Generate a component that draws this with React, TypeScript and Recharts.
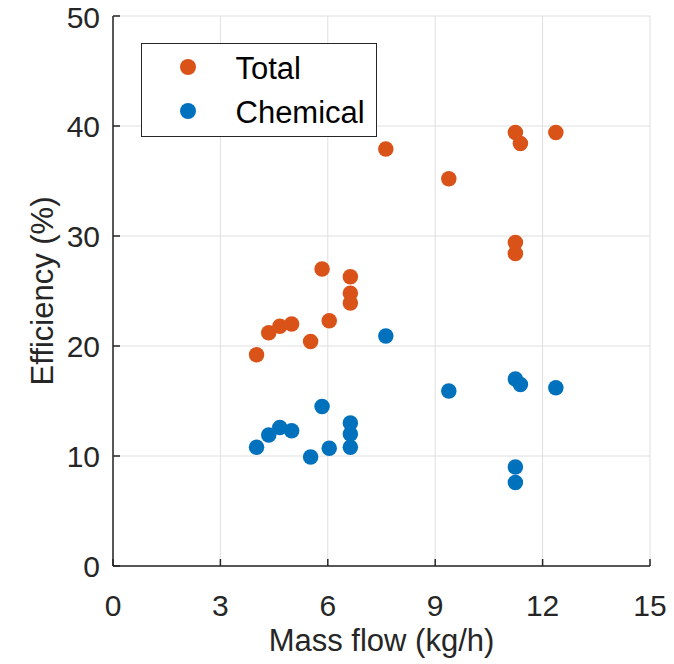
import { ScatterChart, Scatter, XAxis, YAxis, CartesianGrid, Legend } from 'recharts'

// mass flow (kg/h) of each run, shared by both series
const massFlow = [4.01, 4.35, 4.66, 4.99, 5.52, 5.84, 6.04, 6.63, 6.63, 6.63, 7.62, 9.38, 11.24, 11.38, 12.37, 11.24, 11.24]
const totalEff = [19.2, 21.2, 21.8, 22.0, 20.4, 27.0, 22.3, 26.3, 24.8, 23.9, 37.9, 35.2, 39.4, 38.4, 39.4, 29.4, 28.4]
const chemicalEff = [10.8, 11.9, 12.6, 12.3, 9.9, 14.5, 10.7, 13.0, 12.0, 10.8, 20.9, 15.9, 17.0, 16.5, 16.2, 9.0, 7.6]

const xTicks = [0, 3, 6, 9, 12, 15]
const yTicks = [0, 10, 20, 30, 40, 50]

const seriesNames = ['Total', 'Chemical']
const seriesColors = ['#D95319', '#0072BD']

const AXIS = '#262626'
const BOX = '#707070'
const FONT = '"Liberation Sans", Arial, Helvetica, sans-serif'

const totalRows = massFlow.map((x, i) => ({ x, y: totalEff[i] }))
const chemicalRows = massFlow.map((x, i) => ({ x, y: chemicalEff[i] }))

const dot = (color: string) => (p: any) => <circle cx={p.cx} cy={p.cy} r={7.75} fill={color} />

function LegendBox() {
  return (
    <div
      style={{
        width: 236, height: 94, boxSizing: 'border-box', border: '1px solid #262626',
        background: '#fff', fontFamily: FONT, fontSize: 31, color: '#000', paddingTop: 3,
      }}
    >
      {seriesNames.map((name, i) => (
        <div key={name} style={{ position: 'relative', height: 43.5 }}>
          <span
            style={{
              position: 'absolute', left: 38.3, top: 12.3, width: 16, height: 16,
              borderRadius: '50%', background: seriesColors[i],
            }}
          />
          <span style={{ position: 'absolute', left: 93.5, top: 0, lineHeight: '43.5px' }}>{name}</span>
        </div>
      ))}
    </div>
  )
}

const tickStyle = { fill: AXIS, fontSize: 30, fontFamily: FONT }

export default function App() {
  return (
    <div style={{ position: 'absolute', left: 0, top: 0, background: '#fff' }}>
      <ScatterChart width={674} height={664} margin={{ top: 16, right: 24, bottom: 0, left: 0 }}>
        <CartesianGrid stroke="#dfdfdf" strokeWidth={1} />
        <XAxis
          type="number" dataKey="x" domain={[0, 15]} ticks={xTicks} height={98}
          stroke={AXIS} strokeWidth={1.5} tickSize={-7} tickMargin={36} tick={tickStyle}
          label={{ value: 'Mass flow (kg/h)', position: 'center', dy: 25, fill: AXIS, fontSize: 31, fontFamily: FONT }}
        />
        <YAxis
          type="number" dataKey="y" domain={[0, 50]} ticks={yTicks} width={113}
          stroke={AXIS} strokeWidth={1.5} tickSize={-7} tickMargin={20} tick={tickStyle}
          label={{ value: 'Efficiency (%)', angle: -90, position: 'center', dx: -15, fill: AXIS, fontSize: 31, fontFamily: FONT }}
        />
        <XAxis
          xAxisId="top" orientation="top" type="number" domain={[0, 15]} ticks={xTicks} height={0}
          stroke={BOX} strokeWidth={1} tickSize={-7} tick={false}
        />
        <YAxis
          yAxisId="right" orientation="right" type="number" domain={[0, 50]} ticks={yTicks} width={0}
          stroke={BOX} strokeWidth={1} tickSize={-7} tick={false}
        />
        <Legend
          layout="vertical" align="center" verticalAlign="middle"
          wrapperStyle={{ left: 141, top: 43, width: 236, height: 94 }}
          content={() => <LegendBox />}
        />
        <Scatter name="Total" data={totalRows} fill={seriesColors[0]} shape={dot(seriesColors[0])} isAnimationActive={false} />
        <Scatter name="Chemical" data={chemicalRows} fill={seriesColors[1]} shape={dot(seriesColors[1])} isAnimationActive={false} />
      </ScatterChart>
    </div>
  )
}
